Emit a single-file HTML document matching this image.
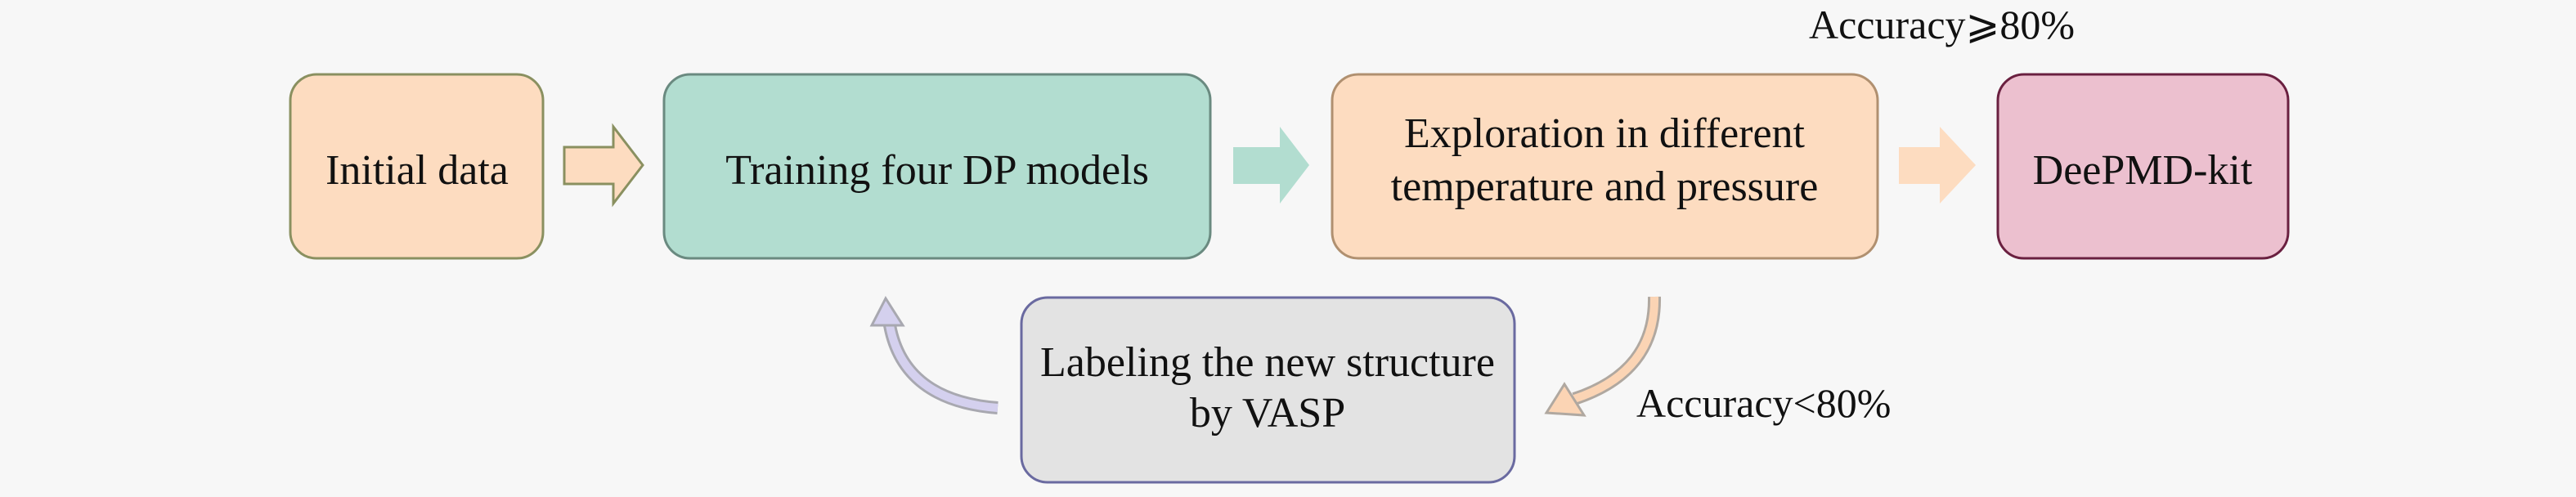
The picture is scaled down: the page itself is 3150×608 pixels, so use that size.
<!DOCTYPE html>
<html><head><meta charset="utf-8"><style>
html,body{margin:0;padding:0;background:#f7f7f7}
svg{display:block}
text{font-family:"Liberation Serif",serif;fill:#111}
</style></head><body>
<svg width="3150" height="608" viewBox="0 0 3150 608" xmlns="http://www.w3.org/2000/svg">
<rect width="3150" height="608" fill="#f7f7f7"/>
<!-- boxes -->
<rect x="355" y="91" width="309" height="225" rx="32" fill="#fddcc0" stroke="#8a9060" stroke-width="3"/>
<rect x="812" y="91" width="668" height="225" rx="32" fill="#b2ddd0" stroke="#6a8a80" stroke-width="3"/>
<rect x="1629" y="91" width="667" height="225" rx="32" fill="#fddcc0" stroke="#b09070" stroke-width="3"/>
<rect x="2443" y="91" width="355" height="225" rx="32" fill="#ecc0cf" stroke="#6a2040" stroke-width="3"/>
<rect x="1249" y="364" width="603" height="226" rx="32" fill="#e3e3e3" stroke="#6a6aa0" stroke-width="3"/>
<!-- straight arrows -->
<polygon points="690,180 750,180 750,155 786,202 750,249 750,225 690,225" fill="#fddcc0" stroke="#8a9060" stroke-width="3"/>
<polygon points="1508,180 1565,180 1565,155 1601,202 1565,249 1565,225 1508,225" fill="#b2ddd0"/>
<polygon points="2322,180 2372,180 2372,155 2416,202 2372,249 2372,225 2322,225" fill="#fddcc0"/>
<!-- curved left arrow -->
<path d="M1220,499 Q1105,490 1088,398" fill="none" stroke="#a8a8b0" stroke-width="16"/>
<path d="M1220,499 Q1105,490 1088,398" fill="none" stroke="#d4d0ee" stroke-width="10"/>
<polygon points="1083,365 1066,398 1104,398" fill="#d4d0ee" stroke="#a8a8b0" stroke-width="3"/>
<!-- curved right arrow -->
<path d="M2023,363 Q2025,455 1925,488" fill="none" stroke="#b0a8a0" stroke-width="16"/>
<path d="M2023,363 Q2025,455 1925,488" fill="none" stroke="#fbd4b4" stroke-width="10"/>
<polygon points="1891,505 1913,470 1937,508" fill="#fbd4b4" stroke="#b0a8a0" stroke-width="3"/>
<!-- labels -->
<text x="510" y="225" font-size="52" text-anchor="middle">Initial data</text>
<text x="1146" y="225" font-size="52" text-anchor="middle">Training four DP models</text>
<text x="1962" y="180" font-size="52" text-anchor="middle">Exploration in different</text>
<text x="1962" y="245" font-size="52" text-anchor="middle">temperature and pressure</text>
<text x="2620" y="225" font-size="52" text-anchor="middle">DeePMD-kit</text>
<text x="1550" y="460" font-size="52" text-anchor="middle">Labeling the new structure</text>
<text x="1550" y="522" font-size="52" text-anchor="middle">by VASP</text>
<text x="2212" y="47" font-size="50">Accuracy⩾80%</text>
<text x="2001" y="510" font-size="50">Accuracy&lt;80%</text>
</svg>
</body></html>
